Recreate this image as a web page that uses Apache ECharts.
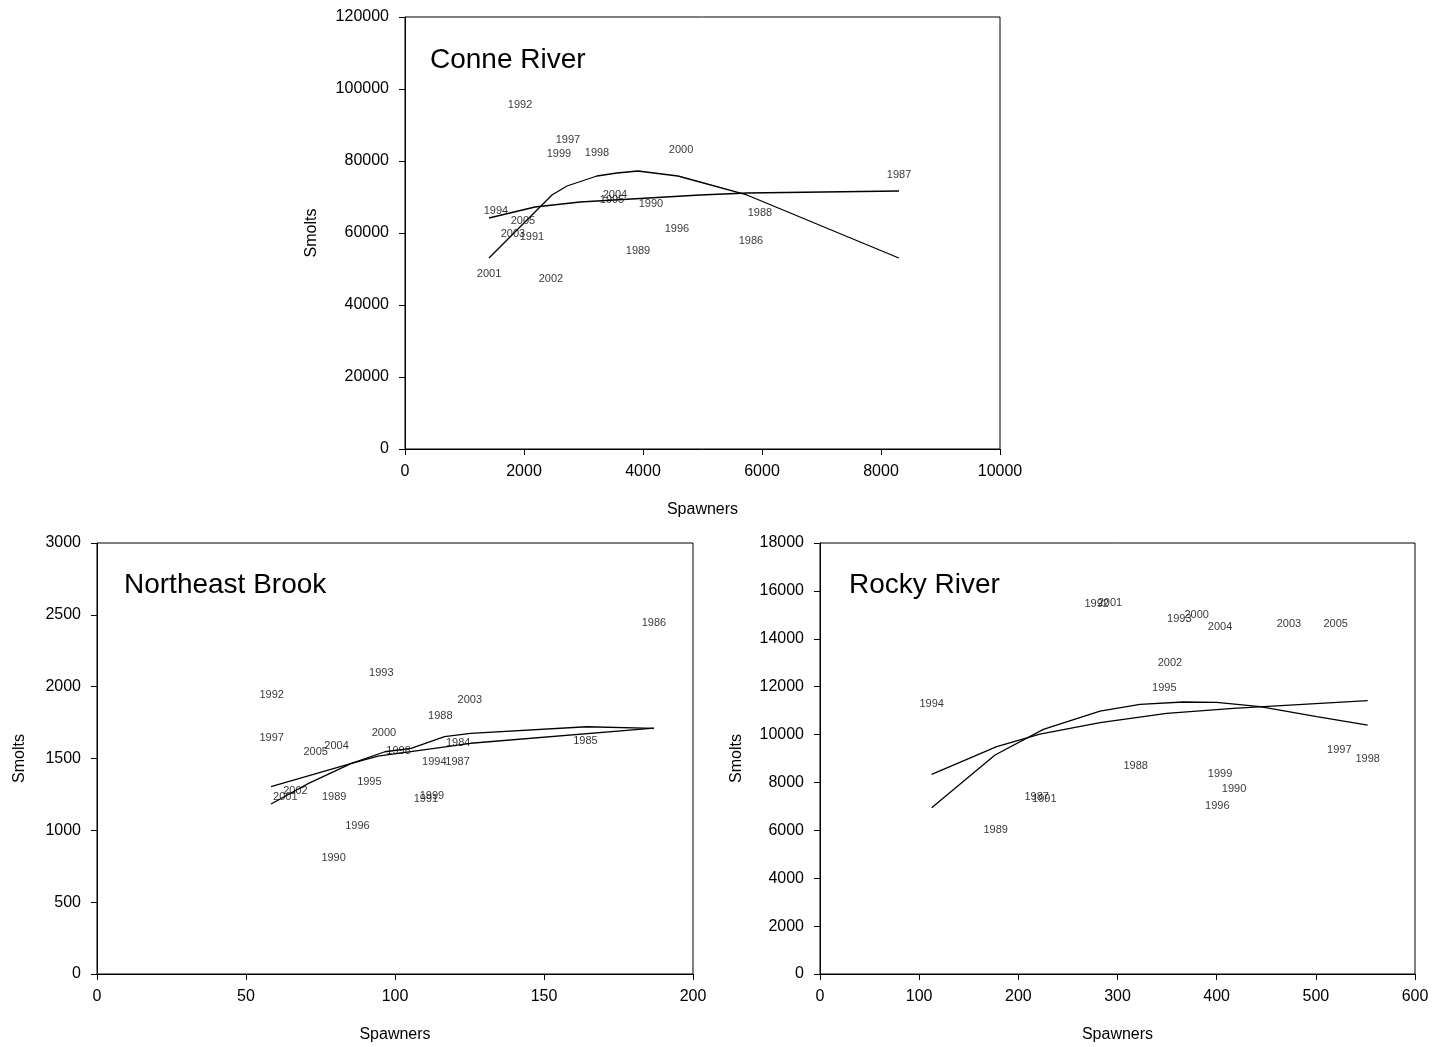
<!DOCTYPE html>
<html>
<head>
<meta charset="utf-8">
<script src="https://cdn.jsdelivr.net/npm/echarts@6/dist/echarts.min.js"></script>
<style>
html,body{margin:0;padding:0;background:#fff;}
#c{width:1444px;height:1047px;}
</style>
</head>
<body>
<div id="c"></div>
<script>
// ---------- Conne River ----------
var conneYears    = ['1992','1997','1999','1998','2000','1987','2004','1995','1990','1994','2005','2003','1991','1996','1988','1986','1989','2001','2002'];
var conneSpawners = [1933, 2739, 2588, 3227, 4639, 8303, 3529, 3479, 4134, 1529, 1983, 1815, 2134, 4571, 5966, 5815, 3916, 1412, 2453];
var conneSmolts   = [95556, 85833, 81944, 82222, 83056, 76111, 70556, 69167, 68056, 66111, 63333, 59722, 58889, 61111, 65556, 57778, 55000, 48611, 47222];
var conneBHx      = [1412, 2185, 2941, 4958, 5748, 8303];
var conneBHy      = [64167, 67222, 68611, 70556, 71111, 71667];
var conneRkX      = [1412, 2470, 2722, 3226, 3562, 3914, 4586, 4956, 5746, 8299];
var conneRkY      = [53056, 70556, 73056, 75833, 76667, 77222, 75833, 74167, 70556, 53056];

// ---------- Northeast Brook ----------
var neYears    = ['1993','1992','2003','1988','1997','2000','2005','2004','1998','1984','1994','1987','1985','1986','1995','2002','2001','1989','1999','1991','1996','1990'];
var neSpawners = [95.4, 58.6, 125.1, 115.2, 58.6, 96.3, 73.4, 80.4, 101.2, 121.2, 113.2, 121.0, 163.9, 186.9, 91.4, 66.6, 63.2, 79.6, 112.4, 110.4, 87.4, 79.4];
var neSmolts   = [2093, 1942, 1907, 1796, 1641, 1675, 1543, 1587, 1554, 1606, 1474, 1474, 1622, 2441, 1334, 1276, 1234, 1234, 1239, 1220, 1032, 805];
var neBHx      = [58.4, 85.4, 94.3, 125.4, 186.9];
var neBHy      = [1304, 1466, 1517, 1606, 1712];
var neRkX      = [58.4, 71.0, 85.4, 96.6, 105.4, 116.6, 125.4, 164.3, 186.9];
var neRkY      = [1183, 1327, 1466, 1547, 1571, 1652, 1675, 1721, 1710];

// ---------- Rocky River ----------
var rkYears    = ['1992','2001','1993','2000','2004','2003','2005','2002','1995','1994','1997','1998','1988','1999','1990','1996','1987','1991','1989'];
var rkSpawners = [279, 292.4, 362.3, 379.9, 403.4, 472.9, 520, 352.9, 347.2, 112.6, 523.7, 552.3, 318.3, 403.4, 417.5, 400.6, 218.5, 226.2, 177.2];
var rkSmolts   = [15451, 15480, 14825, 15005, 14478, 14616, 14616, 13000, 11956, 11263, 9354, 8966, 8686, 8352, 7726, 7016, 7404, 7308, 6013];
var rkBHx      = [112.6, 178.2, 221.8, 282.4, 349.6, 416.8, 552.3];
var rkBHy      = [8340, 9492, 10022, 10494, 10887, 11096, 11413];
var rkRkX      = [112.6, 176.5, 225.2, 282.4, 322.7, 366.3, 400.0, 443.7, 500.9, 552.3];
var rkRkY      = [6945, 9145, 10219, 10983, 11263, 11359, 11346, 11163, 10745, 10398];

var FONT = 'Liberation Sans, Arial, sans-serif';

function pts(xs, ys, names) {
  return xs.map(function (x, i) {
    var o = { value: [x, ys[i]] };
    if (names) o.name = names[i];
    return o;
  });
}
function plain(v) { return String(v); }

function xAx(idx, max, interval) {
  return {
    gridIndex: idx, type: 'value', min: 0, max: max, interval: interval,
    name: 'Spawners', nameLocation: 'middle', nameGap: 53,
    nameTextStyle: { fontFamily: FONT, fontSize: 16, color: '#000' },
    axisLine: { show: true, onZero: false, lineStyle: { color: '#000', width: 1 } },
    axisTick: { show: true, inside: false, length: 6, lineStyle: { color: '#000' } },
    axisLabel: { fontFamily: FONT, fontSize: 16, color: '#000', margin: 15, formatter: plain },
    splitLine: { show: false }
  };
}
function yAx(idx, max, interval, gap) {
  return {
    gridIndex: idx, type: 'value', min: 0, max: max, interval: interval,
    name: 'Smolts', nameLocation: 'middle', nameGap: gap, nameRotate: 90,
    nameTextStyle: { fontFamily: FONT, fontSize: 16, color: '#000' },
    axisLine: { show: true, onZero: false, lineStyle: { color: '#000', width: 1 } },
    axisTick: { show: true, inside: false, length: 6, lineStyle: { color: '#000' } },
    axisLabel: { fontFamily: FONT, fontSize: 16, color: '#000', margin: 16, formatter: plain },
    splitLine: { show: false }
  };
}
function labels(idx, xs, ys, names) {
  return {
    type: 'scatter', xAxisIndex: idx, yAxisIndex: idx,
    symbol: 'circle', symbolSize: 1,
    itemStyle: { color: 'rgba(0,0,0,0)' },
    label: {
      show: true, position: 'inside', formatter: '{b}',
      fontFamily: FONT, fontSize: 11, color: '#000'
    },
    labelLayout: { hideOverlap: false },
    data: pts(xs, ys, names), z: 3
  };
}
function curve(idx, xs, ys) {
  return {
    type: 'line', xAxisIndex: idx, yAxisIndex: idx,
    showSymbol: false, symbol: 'none', smooth: false,
    lineStyle: { color: '#000', width: 1.3 },
    data: pts(xs, ys), z: 2
  };
}
function ttl(text, left, top) {
  return { text: text, left: left, top: top, padding: 0,
    textStyle: { fontFamily: FONT, fontSize: 28, fontWeight: 'normal', color: '#000' } };
}

var chart = echarts.init(document.getElementById('c'), null, { renderer: 'canvas' });
chart.setOption({
  animation: false,
  backgroundColor: '#fff',
  title: [
    ttl('Conne River', 430, 46),
    ttl('Northeast Brook', 124, 571),
    ttl('Rocky River', 849, 571)
  ],
  grid: [
    { left: 405, top: 17, width: 595, height: 432, show: true, borderColor: '#000', borderWidth: 1, backgroundColor: 'transparent' },
    { left: 97, top: 543, width: 596, height: 431, show: true, borderColor: '#000', borderWidth: 1, backgroundColor: 'transparent' },
    { left: 820, top: 543, width: 595, height: 431, show: true, borderColor: '#000', borderWidth: 1, backgroundColor: 'transparent' }
  ],
  xAxis: [xAx(0, 10000, 2000), xAx(1, 200, 50), xAx(2, 600, 100)],
  yAxis: [yAx(0, 120000, 20000, 85), yAx(1, 3000, 500, 69), yAx(2, 18000, 2000, 75)],
  series: [
    curve(0, conneBHx, conneBHy),
    curve(0, conneRkX, conneRkY),
    labels(0, conneSpawners, conneSmolts, conneYears),
    curve(1, neBHx, neBHy),
    curve(1, neRkX, neRkY),
    labels(1, neSpawners, neSmolts, neYears),
    curve(2, rkBHx, rkBHy),
    curve(2, rkRkX, rkRkY),
    labels(2, rkSpawners, rkSmolts, rkYears)
  ]
});
</script>
</body>
</html>
